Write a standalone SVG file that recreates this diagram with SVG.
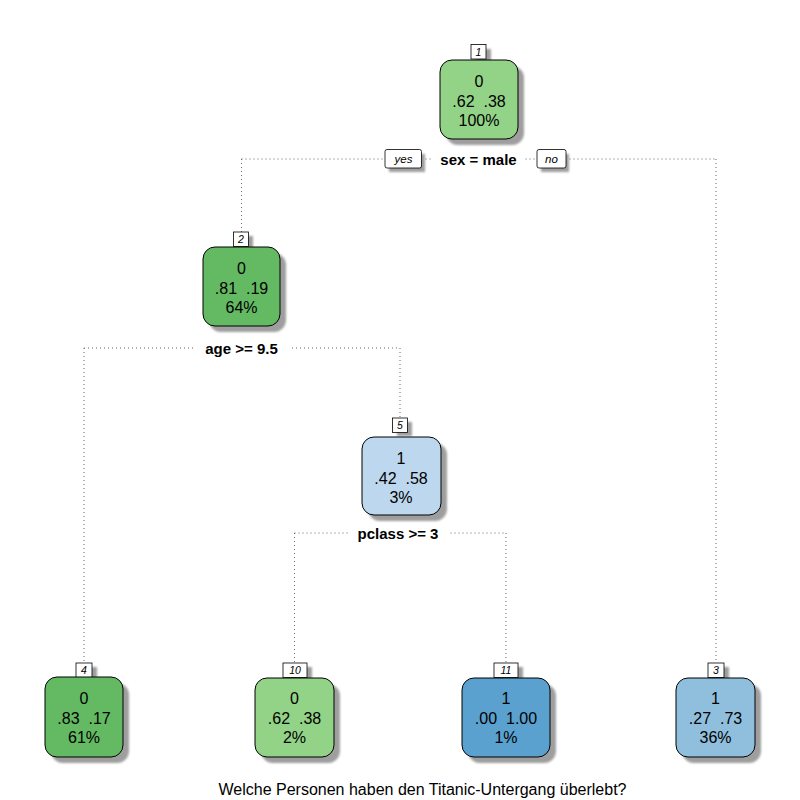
<svg xmlns="http://www.w3.org/2000/svg" width="800" height="800" viewBox="0 0 800 800">
  <style>
    .node { stroke: #000; stroke-width: 1; }
    .shadow { fill: #9e9e9e; filter: url(#soft); }
    .txt { font-family: "Liberation Sans", Arial, sans-serif; font-size: 16px; fill: #000; text-anchor: middle; }
    .split { font-family: "Liberation Sans", Arial, sans-serif; font-size: 15px; font-weight: bold; fill: #000; text-anchor: middle; }
    .num { font-family: "Liberation Sans", Arial, sans-serif; font-size: 10.5px; font-style: italic; fill: #000; text-anchor: middle; }
    .tag { font-family: "Liberation Sans", Arial, sans-serif; font-size: 11.5px; font-style: italic; fill: #000; text-anchor: middle; }
    .numbox { fill: #fff; stroke: #000; stroke-width: 0.8; }
    .dot { fill: none; stroke: #666; stroke-width: 1; stroke-dasharray: 1 3; }
    .title { font-family: "Liberation Sans", Arial, sans-serif; font-size: 16px; fill: #000; text-anchor: middle; }
  </style>
  <defs>
    <filter id="soft" x="-20%" y="-20%" width="140%" height="140%">
      <feGaussianBlur stdDeviation="1.3"/>
    </filter>
  </defs>
  <rect width="800" height="800" fill="#fff"/>

  <!-- connectors -->
  <g id="connectors">
    <path class="dot" d="M241.5,159 H716 M241.5,159 V232 M716,159 V663"/>
    <path class="dot" d="M84,348 H400 M84,348 V663 M400,348 V418"/>
    <path class="dot" d="M294.5,533 H506 M294.5,533 V663 M506,533 V663"/>
    <!-- split labels with white backing -->
    <rect x="432" y="150" width="92" height="18" fill="#fff"/>
    <text class="split" x="478.5" y="164.5">sex = male</text>
    <rect x="389" y="154" width="36" height="18" fill="#9e9e9e" filter="url(#soft)"/>
    <rect x="385" y="149.5" width="36.5" height="18.5" fill="#fff" stroke="#000" stroke-width="0.8" rx="2"/>
    <text class="tag" x="403.5" y="163">yes</text>
    <rect x="541" y="154" width="28" height="18" fill="#9e9e9e" filter="url(#soft)"/>
    <rect x="537" y="149.5" width="29" height="18.5" fill="#fff" stroke="#000" stroke-width="0.8" rx="2"/>
    <text class="tag" x="551.5" y="163">no</text>

    <rect x="193" y="339" width="97" height="18" fill="#fff"/>
    <text class="split" x="241.5" y="353.5">age &gt;= 9.5</text>

    <rect x="349" y="524" width="99" height="18" fill="#fff"/>
    <text class="split" x="398" y="538.5">pclass &gt;= 3</text>
  </g>

  <!-- node 1 -->
  <g id="node1">
    <rect class="shadow" x="476" y="49" width="15" height="14"/>
    <rect class="shadow" x="446" y="66" width="78" height="79" rx="12"/>
    <rect class="numbox" x="471" y="44.5" width="15" height="14.5"/>
    <text class="num" x="478.5" y="55.5">1</text>
    <rect class="node" x="440" y="60" width="78" height="79" rx="12" fill="#93d387"/>
    <text class="txt" x="479" y="87">0</text>
    <text class="txt" x="479" y="106.5" xml:space="preserve">.62  .38</text>
    <text class="txt" x="479" y="126">100%</text>
  </g>

  <!-- node 2 -->
  <g id="node2">
    <rect class="shadow" x="238" y="236" width="15" height="14"/>
    <rect class="shadow" x="209" y="253" width="77" height="79" rx="12"/>
    <rect class="numbox" x="233.5" y="232" width="15" height="14.5"/>
    <text class="num" x="241" y="243">2</text>
    <rect class="node" x="203" y="247" width="77" height="79" rx="12" fill="#63ba63"/>
    <text class="txt" x="241.5" y="274">0</text>
    <text class="txt" x="241.5" y="293.5" xml:space="preserve">.81  .19</text>
    <text class="txt" x="241.5" y="313">64%</text>
  </g>

  <!-- node 5 -->
  <g id="node5">
    <rect class="shadow" x="397" y="422" width="15" height="14"/>
    <rect class="shadow" x="368" y="443" width="79" height="78" rx="12"/>
    <rect class="numbox" x="392.5" y="418" width="15" height="14.5"/>
    <text class="num" x="400" y="429">5</text>
    <rect class="node" x="362" y="437" width="79" height="78" rx="12" fill="#bdd7ee"/>
    <text class="txt" x="401" y="464">1</text>
    <text class="txt" x="401" y="483.5" xml:space="preserve">.42  .58</text>
    <text class="txt" x="401" y="503">3%</text>
  </g>

  <!-- node 4 -->
  <g id="node4">
    <rect class="shadow" x="81" y="667" width="16" height="14"/>
    <rect class="shadow" x="51" y="683" width="78" height="80" rx="12"/>
    <rect class="numbox" x="76" y="663" width="16" height="14.5"/>
    <text class="num" x="84" y="674">4</text>
    <rect class="node" x="45" y="677" width="78" height="80" rx="12" fill="#63ba63"/>
    <text class="txt" x="84" y="704">0</text>
    <text class="txt" x="84" y="723.5" xml:space="preserve">.83  .17</text>
    <text class="txt" x="84" y="743">61%</text>
  </g>

  <!-- node 10 -->
  <g id="node10">
    <rect class="shadow" x="288" y="667" width="24" height="14"/>
    <rect class="shadow" x="261" y="684" width="79" height="79" rx="12"/>
    <rect class="numbox" x="283" y="663" width="24" height="14.5"/>
    <text class="num" x="295" y="674">10</text>
    <rect class="node" x="255" y="678" width="79" height="79" rx="12" fill="#93d387"/>
    <text class="txt" x="294.5" y="704">0</text>
    <text class="txt" x="294.5" y="723.5" xml:space="preserve">.62  .38</text>
    <text class="txt" x="294.5" y="743">2%</text>
  </g>

  <!-- node 11 -->
  <g id="node11">
    <rect class="shadow" x="499" y="667" width="24" height="14"/>
    <rect class="shadow" x="468" y="684" width="88" height="79" rx="12"/>
    <rect class="numbox" x="494" y="663" width="24" height="14.5"/>
    <text class="num" x="506" y="674">11</text>
    <rect class="node" x="462" y="678" width="88" height="79" rx="12" fill="#5aa1cf"/>
    <text class="txt" x="506" y="704">1</text>
    <text class="txt" x="506" y="723.5" xml:space="preserve">.00  1.00</text>
    <text class="txt" x="506" y="743">1%</text>
  </g>

  <!-- node 3 -->
  <g id="node3">
    <rect class="shadow" x="713" y="667" width="16" height="14"/>
    <rect class="shadow" x="682" y="684" width="79" height="79" rx="12"/>
    <rect class="numbox" x="708" y="663" width="16" height="14.5"/>
    <text class="num" x="716" y="674">3</text>
    <rect class="node" x="676" y="678" width="79" height="79" rx="12" fill="#90bfdd"/>
    <text class="txt" x="715.5" y="704">1</text>
    <text class="txt" x="715.5" y="723.5" xml:space="preserve">.27  .73</text>
    <text class="txt" x="715.5" y="743">36%</text>
  </g>

  <text class="title" x="422.5" y="795">Welche Personen haben den Titanic-Untergang überlebt?</text>
</svg>
